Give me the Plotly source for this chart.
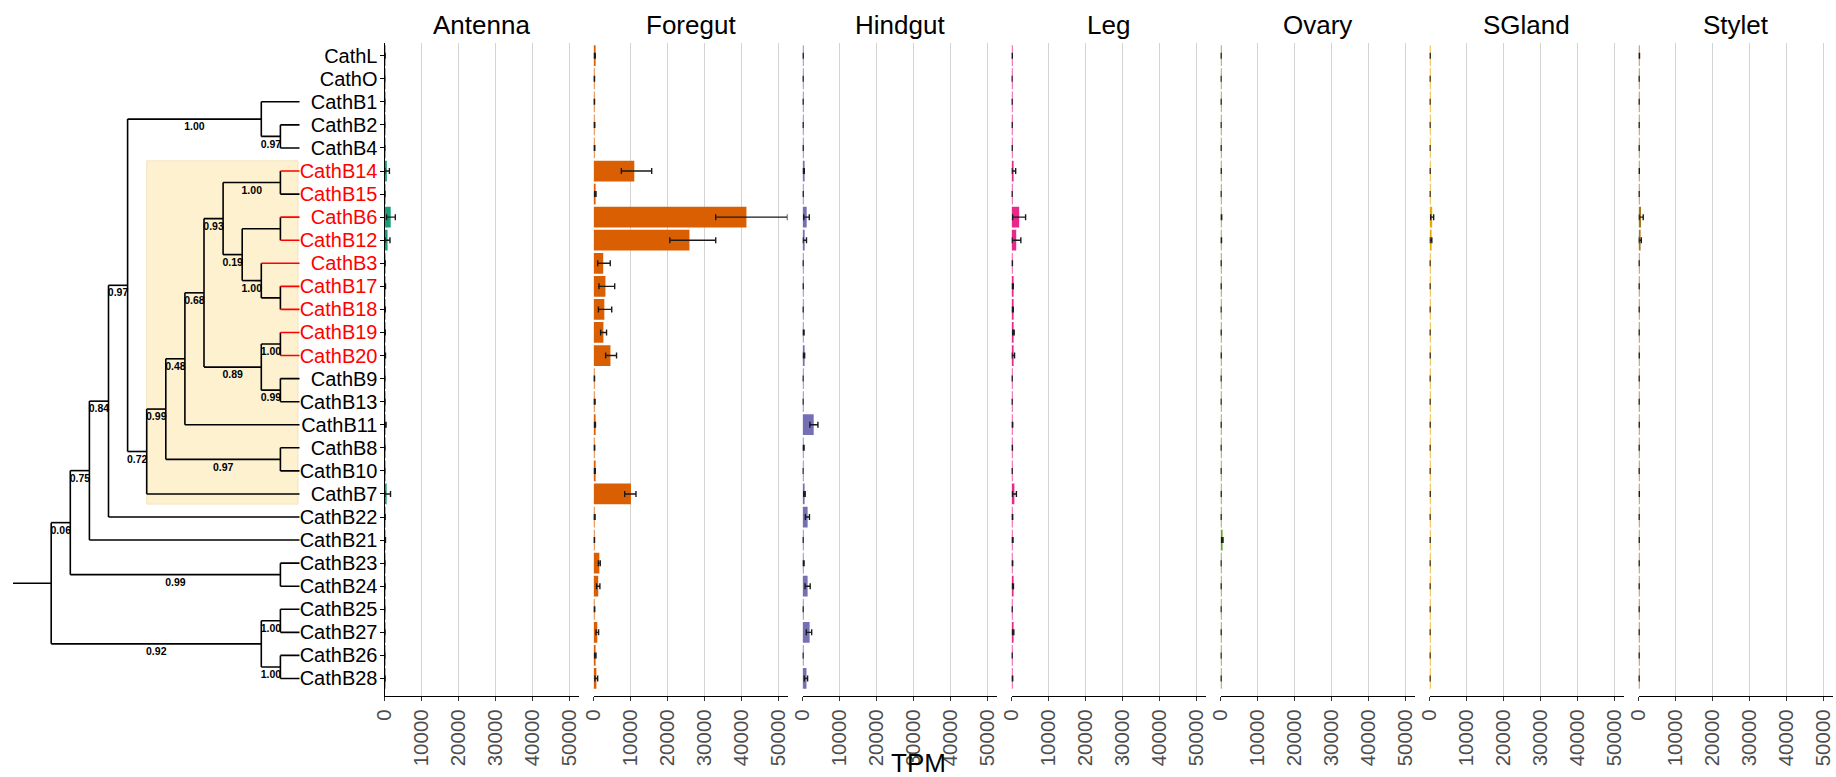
import plotly.graph_objects as go

# ---- tips (top to bottom) ----
genes = ["CathL", "CathO", "CathB1", "CathB2", "CathB4", "CathB14", "CathB15", "CathB6",
         "CathB12", "CathB3", "CathB17", "CathB18", "CathB19", "CathB20", "CathB9",
         "CathB13", "CathB11", "CathB8", "CathB10", "CathB7", "CathB22", "CathB21",
         "CathB23", "CathB24", "CathB25", "CathB27", "CathB26", "CathB28"]
red_labels = ["CathB14", "CathB15", "CathB6", "CathB12", "CathB3", "CathB17", "CathB18",
              "CathB19", "CathB20"]
red_branches = ["CathB14", "CathB6", "CathB12", "CathB3", "CathB17", "CathB18",
                "CathB19", "CathB20"]

tissues = ["Antenna", "Foregut", "Hindgut", "Leg", "Ovary", "SGland", "Stylet"]
tissue_colors = ["#1B9E77", "#D95F02", "#7570B3", "#E7298A", "#66A61E", "#E6AB02", "#A6761D"]

# ---- expression (TPM): mean, lower and upper error-bar ends ----
antenna_tpm = [100, 20, 30, 20, 30, 600, 60, 1650, 800, 100, 150, 120, 120, 150, 40, 60, 250, 50, 30, 550, 100, 150, 50, 80, 20, 60, 30, 80]
antenna_lo = [50, 10, 10, 10, 10, 50, 20, 550, 100, 40, 60, 40, 50, 60, 20, 20, 100, 20, 10, 50, 40, 60, 20, 30, 10, 20, 10, 30]
antenna_hi = [150, 30, 50, 30, 50, 1300, 100, 2900, 1450, 160, 240, 200, 190, 240, 60, 100, 400, 80, 50, 1600, 160, 240, 80, 130, 30, 100, 50, 130]

foregut_tpm = [300, 150, 150, 200, 200, 11000, 450, 41300, 25900, 2600, 3200, 2900, 2650, 4550, 150, 250, 350, 200, 300, 10100, 250, 150, 1550, 1250, 200, 1000, 450, 750]
foregut_lo = [150, 50, 50, 80, 80, 7500, 250, 33000, 20600, 1100, 1450, 1300, 1900, 3250, 50, 100, 200, 100, 150, 8400, 100, 50, 1300, 800, 100, 650, 250, 350]
foregut_hi = [450, 250, 250, 320, 320, 15700, 650, 52400, 33000, 4500, 5700, 4900, 3500, 6200, 250, 400, 500, 300, 450, 11450, 400, 250, 1800, 1700, 300, 1350, 650, 1100]

hindgut_tpm = [100, 80, 80, 80, 100, 300, 100, 1100, 550, 80, 100, 80, 250, 350, 60, 60, 3000, 250, 50, 500, 1350, 80, 250, 1350, 80, 1900, 60, 1050]
hindgut_lo = [50, 30, 30, 30, 50, 150, 50, 300, 100, 30, 50, 30, 100, 150, 20, 20, 1970, 100, 20, 300, 750, 30, 100, 650, 30, 1000, 20, 450]
hindgut_hi = [150, 130, 130, 130, 150, 450, 150, 1800, 1050, 130, 150, 130, 400, 550, 100, 100, 4140, 400, 80, 700, 1850, 130, 400, 2050, 130, 2450, 100, 1350]

leg_tpm = [120, 60, 80, 100, 100, 450, 80, 2050, 1250, 150, 300, 300, 500, 450, 100, 80, 200, 150, 100, 750, 200, 250, 200, 350, 100, 400, 100, 200]
leg_lo = [50, 20, 30, 50, 50, 100, 30, 270, 100, 80, 150, 150, 300, 100, 50, 30, 100, 80, 50, 200, 100, 120, 100, 200, 50, 200, 50, 100]
leg_hi = [190, 100, 130, 150, 150, 1100, 130, 3780, 2500, 220, 450, 450, 700, 800, 150, 130, 300, 220, 150, 1300, 300, 380, 300, 500, 150, 600, 150, 300]

ovary_tpm = [80, 60, 80, 60, 80, 100, 60, 200, 150, 80, 80, 60, 80, 100, 60, 60, 80, 60, 60, 100, 80, 450, 60, 80, 60, 80, 60, 80]
ovary_lo = [30, 20, 30, 20, 30, 50, 20, 100, 60, 30, 30, 20, 30, 50, 20, 20, 30, 20, 20, 50, 30, 250, 20, 30, 20, 30, 20, 30]
ovary_hi = [130, 100, 130, 100, 130, 150, 100, 300, 240, 130, 130, 100, 130, 150, 100, 100, 130, 100, 100, 150, 130, 650, 100, 130, 100, 130, 100, 130]

sgland_tpm = [100, 60, 60, 60, 60, 80, 60, 700, 350, 60, 60, 60, 60, 80, 60, 60, 80, 60, 60, 100, 60, 80, 60, 60, 60, 60, 60, 60]
sgland_lo = [50, 20, 20, 20, 20, 30, 20, 300, 100, 20, 20, 20, 20, 30, 20, 20, 30, 20, 20, 50, 20, 30, 20, 20, 20, 20, 20, 20]
sgland_hi = [150, 100, 100, 100, 100, 130, 100, 1100, 600, 100, 100, 100, 100, 130, 100, 100, 130, 100, 100, 150, 100, 130, 100, 100, 100, 100, 100, 100]

stylet_tpm = [150, 80, 80, 80, 80, 120, 80, 650, 380, 80, 80, 80, 80, 100, 80, 80, 100, 80, 80, 120, 80, 100, 80, 80, 80, 80, 80, 80]
stylet_lo = [60, 30, 30, 30, 30, 50, 30, 100, 50, 30, 30, 30, 30, 40, 30, 30, 40, 30, 30, 50, 30, 40, 30, 30, 30, 30, 30, 30]
stylet_hi = [240, 130, 130, 130, 130, 190, 130, 1250, 730, 130, 130, 130, 130, 160, 130, 130, 160, 130, 130, 190, 130, 160, 130, 130, 130, 130, 130, 130]

tpm_ticks = [0, 10000, 20000, 30000, 40000, 50000]
tpm_max = 52400

# ---- phylogeny: (support, [children]) for clades, gene name for tips ----
tree = ("", [
    ("0.06", [
        ("0.75", [
            ("0.84", [
                ("0.97", [
                    ("1.00", ["CathB1", ("0.97", ["CathB2", "CathB4"])]),
                    ("0.72", [
                        ("0.99", [
                            ("0.48", [
                                ("0.68", [
                                    ("0.93", [
                                        ("1.00", ["CathB14", "CathB15"]),
                                        ("0.19", [
                                            ("0.99", ["CathB6", "CathB12"]),
                                            ("1.00", ["CathB3", ("", ["CathB17", "CathB18"])]),
                                        ]),
                                    ]),
                                    ("0.89", [
                                        ("1.00", ["CathB19", "CathB20"]),
                                        ("0.99", ["CathB9", "CathB13"]),
                                    ]),
                                ]),
                                "CathB11",
                            ]),
                            ("0.97", ["CathB8", "CathB10"]),
                        ]),
                        "CathB7",
                    ]),
                ]),
                "CathB22",
            ]),
            "CathB21",
        ]),
        ("0.99", ["CathB23", "CathB24"]),
    ]),
    ("0.92", [
        ("1.00", ["CathB25", "CathB27"]),
        ("1.00", ["CathB26", "CathB28"]),
    ]),
])
highlight_clade_support = "0.72"
root_edge = 2.0

# ---- page geometry (pixels) ----
W, H = 1836, 777
FONT = "Liberation Sans, Arial, Helvetica, sans-serif"
panel_left0 = 384.6
panel_step = 209.0
panel_width = 193.9
plot_top, plot_bottom = 43.0, 696.0
tree_unit = 19.1


def height(n):
    return 0 if isinstance(n, str) else 1 + max(height(c) for c in n[1])


def ypos(n):
    if isinstance(n, str):
        return genes.index(n)
    return sum(ypos(c) for c in n[1]) / len(n[1])


def tips(n):
    return [n] if isinstance(n, str) else [t for c in n[1] for t in tips(c)]


H_root = height(tree)


def xpos(n):
    return H_root - height(n)


black_x, black_y, red_x, red_y = [], [], [], []
sup_x, sup_y, sup_t = [], [], []
hl = {}


def walk(n, parent_x):
    x, y = xpos(n), ypos(n)
    if isinstance(n, str) and n in red_branches:
        red_x.extend([parent_x, x, None]); red_y.extend([y, y, None])
    else:
        black_x.extend([parent_x, x, None]); black_y.extend([y, y, None])
    if isinstance(n, str):
        return
    sup, kids = n
    ys = [ypos(c) for c in kids]
    black_x.extend([x, x, None]); black_y.extend([min(ys), max(ys), None])
    if sup and parent_x != x - root_edge:
        sup_x.append((parent_x + x) / 2); sup_y.append(y + 0.37); sup_t.append(sup)
    if sup == highlight_clade_support and not hl:
        rows = [genes.index(t) for t in tips(n)]
        hl.update(x0=x, x1=H_root - 0.08, y0=min(rows) - 0.44, y1=max(rows) + 0.44)
    for c in kids:
        walk(c, x)


walk(tree, xpos(tree) - root_edge)

fig = go.Figure()

# tree axis spans from the page edge to the first panel
tree_left = -2 - 13.0 / tree_unit
tree_right = tree_left + panel_left0 / tree_unit

fig.add_trace(go.Scatter(x=black_x, y=black_y, mode="lines", xaxis="x8", yaxis="y",
                         line=dict(color="black", width=1.6), hoverinfo="skip", showlegend=False))
fig.add_trace(go.Scatter(x=red_x, y=red_y, mode="lines", xaxis="x8", yaxis="y",
                         line=dict(color="#FF0000", width=1.6), hoverinfo="skip", showlegend=False))
fig.add_trace(go.Scatter(x=sup_x, y=sup_y, mode="text", xaxis="x8", yaxis="y",
                         text=["<b>%s</b>" % s for s in sup_t], textposition="middle center",
                         textfont=dict(family=FONT, size=10.5, color="black"),
                         hoverinfo="skip", showlegend=False))
fig.add_shape(type="rect", xref="x8", yref="y", x0=hl["x0"], x1=hl["x1"], y0=hl["y0"], y1=hl["y1"],
              fillcolor="#FDF1CF", line=dict(color="#F3E4BE", width=1), layer="below")

tpm_sets = [(antenna_tpm, antenna_lo, antenna_hi), (foregut_tpm, foregut_lo, foregut_hi),
            (hindgut_tpm, hindgut_lo, hindgut_hi), (leg_tpm, leg_lo, leg_hi),
            (ovary_tpm, ovary_lo, ovary_hi), (sgland_tpm, sgland_lo, sgland_hi),
            (stylet_tpm, stylet_lo, stylet_hi)]

rows = list(range(len(genes)))
annotations = []
for i, (name, col, (v, lo, hi)) in enumerate(zip(tissues, tissue_colors, tpm_sets)):
    ax = "x" if i == 0 else "x%d" % (i + 1)
    fig.add_trace(go.Bar(
        x=v, y=rows, orientation="h", xaxis=ax, yaxis="y", width=0.9,
        marker=dict(color=col, line=dict(width=0)),
        error_x=dict(type="data", symmetric=False,
                     array=[h - m for h, m in zip(hi, v)],
                     arrayminus=[m - l for m, l in zip(v, lo)],
                     color="#1A1A1A", thickness=1.4, width=3),
        showlegend=False, name=name))
    left = panel_left0 + i * panel_step
    dom = [left / W, (left + panel_width) / W]
    fig.layout["xaxis" if i == 0 else "xaxis%d" % (i + 1)] = dict(
        domain=dom, anchor="y", range=[0, tpm_max], tickmode="array",
        tickvals=tpm_ticks, ticktext=[str(t) for t in tpm_ticks], tickangle=-90,
        tickfont=dict(family=FONT, size=20.5, color="#4D4D4D"),
        ticks="outside", ticklen=4, tickcolor="#333333", tickwidth=1,
        ticklabeloverflow="allow",
        showline=True, linecolor="black", linewidth=1.2,
        showgrid=True, gridcolor="#D3D3D3", gridwidth=1.2, zeroline=False,
        automargin=False, fixedrange=True)
    annotations.append(dict(text=name, x=(dom[0] + dom[1]) / 2, y=1 - 25.0 / H,
                            xref="paper", yref="paper", xanchor="center", yanchor="middle",
                            showarrow=False, font=dict(family=FONT, size=26, color="black")))

annotations.append(dict(text="TPM", x=0.5, y=-3.0 / H, xref="paper", yref="paper",
                        xanchor="center", yanchor="bottom", showarrow=False,
                        font=dict(family=FONT, size=26, color="black")))

ticktext = ['<span style="color:#FF0000">%s</span>' % g if g in red_labels else g for g in genes]

fig.update_layout(
    width=W, height=H, margin=dict(l=0, r=0, t=0, b=0),
    paper_bgcolor="white", plot_bgcolor="white", barmode="overlay",
    font=dict(family=FONT),
    annotations=annotations,
    yaxis=dict(domain=[1 - plot_bottom / H, 1 - plot_top / H], anchor="x",
               range=[len(genes) - 1 + 0.76, -0.55], tickmode="array", tickvals=rows,
               ticktext=ticktext,
               tickfont=dict(family=FONT, size=20, color="black"),
               ticks="outside", ticklen=4, tickcolor="black", tickwidth=1,
               ticklabelstandoff=-2,
               showline=True, linecolor="black", linewidth=1.2,
               showgrid=False, zeroline=False, automargin=False, fixedrange=True),
    xaxis8=dict(domain=[0, panel_left0 / W], anchor="y", range=[tree_left, tree_right],
                visible=False, fixedrange=True),
)

fig.write_html("out.html")
